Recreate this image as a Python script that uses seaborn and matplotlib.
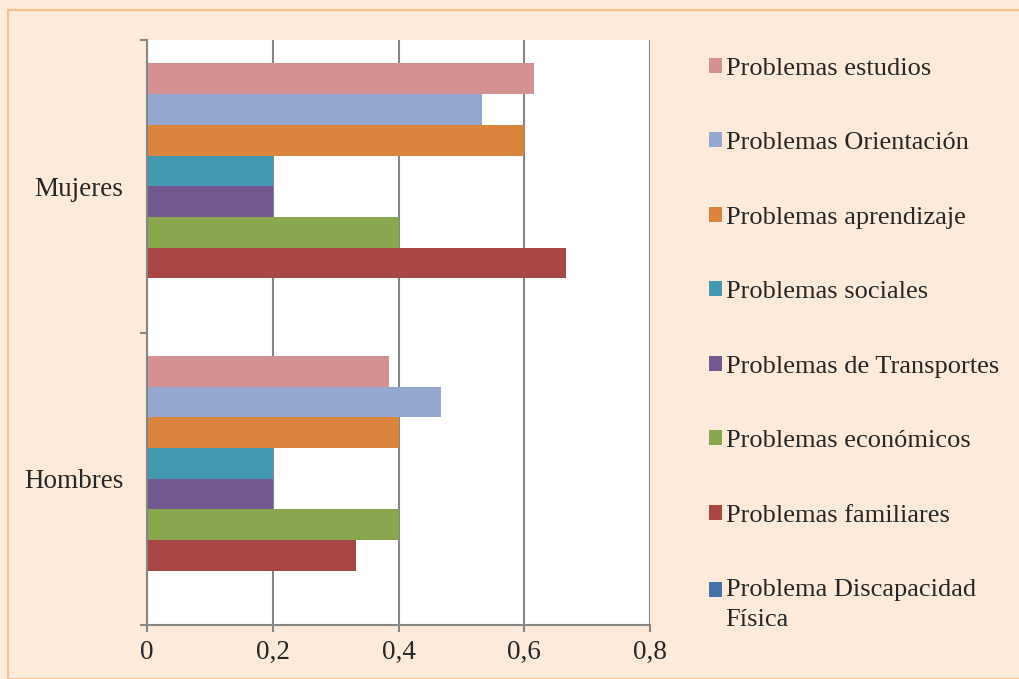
import pandas as pd
import numpy as np
import matplotlib
matplotlib.use('Agg')
import matplotlib.pyplot as plt
import seaborn as sns
from matplotlib.patches import Rectangle, Patch
from matplotlib.legend_handler import HandlerPatch
from matplotlib.ticker import FixedLocator

grupos = ['Mujeres', 'Hombres']
series = ['Problemas estudios', 'Problemas Orientación', 'Problemas aprendizaje',
          'Problemas sociales', 'Problemas de Transportes', 'Problemas económicos',
          'Problemas familiares', 'Problema Discapacidad\nFísica']
mujeres = [0.615, 0.533, 0.6, 0.2, 0.2, 0.4, 0.667, 0.0]
hombres = [0.385, 0.467, 0.4, 0.2, 0.2, 0.4, 0.333, 0.0]
colores = ['#D39191', '#95A9D0', '#DB843D', '#4299B1', '#71598F', '#8AA64E', '#A94646', '#4572A7']
xticks = [0, 0.2, 0.4, 0.6, 0.8]
xtick_labels = ['0', '0,2', '0,4', '0,6', '0,8']

df = pd.DataFrame({
    'grupo': np.repeat(grupos, len(series)),
    'serie': series * len(grupos),
    'valor': mujeres + hombres,
})


class HandlerFirstLine(HandlerPatch):
    # legend square next to the first line of a two-line label
    def create_artists(self, legend, orig_handle, xdescent, ydescent, width, height, fontsize, trans):
        return super().create_artists(legend, orig_handle, xdescent, ydescent - 0.55 * fontsize,
                                      width, height, fontsize, trans)


sns.set_style('white')
plt.rcParams['font.family'] = ['Liberation Serif', 'DejaVu Serif']
bg = '#FDEADA'
fs = 19.5

fig = plt.figure(figsize=(10.19, 6.79), dpi=100, facecolor=bg)
ax = fig.add_axes([147/1019, 54/679, 503/1019, 585/679])
sns.barplot(data=df, y='grupo', x='valor', hue='serie', order=grupos, hue_order=series,
            palette=colores, orient='h', width=0.84, linewidth=0, saturation=1, ax=ax)

ax.set_xlim(0, 0.8)
ax.set_ylim(1.5, -0.5)
ax.set_facecolor('white')
ax.set_xticks(xticks)
ax.set_xticklabels(xtick_labels, fontsize=fs)
ax.set_yticks([0, 1])
ax.set_yticklabels(grupos, fontsize=fs)
ax.yaxis.set_minor_locator(FixedLocator([-0.5, 0.5, 1.5]))
ax.tick_params(axis='y', which='major', left=True, length=0, pad=17)
ax.tick_params(axis='y', which='minor', left=True, length=5, width=1.5, color='#868686', direction='out')
ax.tick_params(axis='x', bottom=True, length=5, width=1.5, color='#868686', direction='out', pad=6)
ax.set_xlabel('')
ax.set_ylabel('')
ax.grid(axis='x', color='#868686', linewidth=1.5)
ax.set_axisbelow(True)
for s in ['top', 'right']:
    ax.spines[s].set_visible(False)
for s in ['left', 'bottom']:
    ax.spines[s].set_color('#868686')
    ax.spines[s].set_linewidth(1.5)

if ax.legend_ is not None:
    ax.legend_.remove()
handles = [Patch(facecolor=c, edgecolor='none') for c in colores]
leg = fig.legend(handles, series, loc='upper left', bbox_to_anchor=(698/1019, 1 - 47/679),
                 frameon=False, fontsize=19, handlelength=0.5, handleheight=0.5,
                 handletextpad=0.15, labelspacing=1.99, borderaxespad=0,
                 handler_map={handles[-1]: HandlerFirstLine()})
leg.get_texts()[-1].set_linespacing(1.45)

fig.patches.append(Rectangle((8/1019, 0), 1.1, 1 - 10/679, transform=fig.transFigure,
                             fill=False, edgecolor='#F9C08E', linewidth=1.5))

fig.savefig('out.png', dpi=100, facecolor=bg)
